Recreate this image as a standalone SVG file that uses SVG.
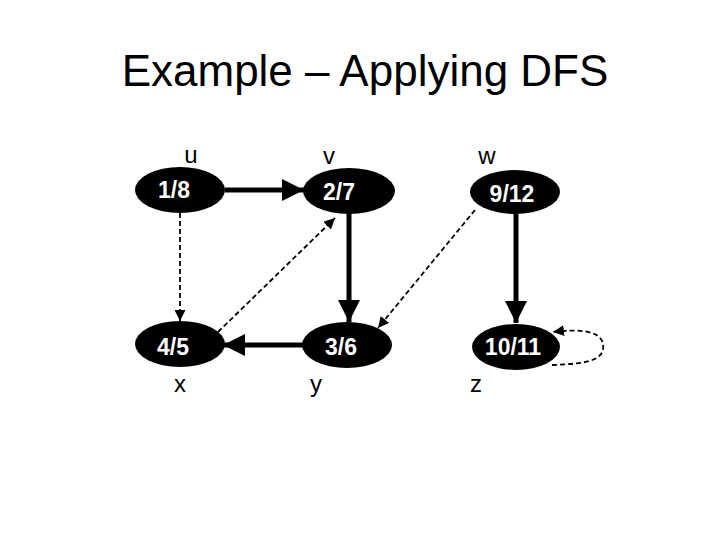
<svg xmlns="http://www.w3.org/2000/svg" width="720" height="540" viewBox="0 0 720 540">
<style>
.node{fill:#000}
.nt{font-family:"Liberation Sans",Arial,sans-serif;font-weight:bold;font-size:23px;fill:#fff;text-anchor:middle}
.lb{font-family:"Liberation Sans",Arial,sans-serif;font-size:24px;fill:#000;text-anchor:middle}
.tree{stroke:#000;stroke-width:5;fill:none}
.back{stroke:#000;stroke-width:1.8;stroke-dasharray:5,3;fill:none}
</style>
<defs>
<marker id="bigA" viewBox="0 0 20 20" refX="20" refY="10" markerWidth="23" markerHeight="22" orient="auto" markerUnits="userSpaceOnUse">
<path d="M0,0 L20,10 L0,20 Z" fill="#000"/>
</marker>
<marker id="sm" viewBox="0 0 10 10" refX="10" refY="5" markerWidth="11" markerHeight="11" orient="auto" markerUnits="userSpaceOnUse">
<path d="M0,0 L10,5 L0,10 Z" fill="#000"/>
</marker>
</defs>
<rect width="720" height="540" fill="#fff"/>
<text x="365" y="86" font-family="Liberation Sans, Arial, sans-serif" font-size="44" text-anchor="middle">Example – Applying DFS</text>

<g id="connectors">
<line class="tree" x1="225" y1="190" x2="304" y2="190" marker-end="url(#bigA)"/>
<line class="tree" x1="349" y1="213" x2="349" y2="322" marker-end="url(#bigA)"/>
<line class="tree" x1="516" y1="214" x2="516" y2="323" marker-end="url(#bigA)"/>
<line class="tree" x1="303" y1="345" x2="223" y2="345" marker-end="url(#bigA)"/>
<line class="back" x1="180" y1="213" x2="180" y2="321" marker-end="url(#sm)"/>
<line class="back" x1="218" y1="332" x2="335" y2="218" marker-end="url(#sm)"/>
<line class="back" x1="475" y1="210" x2="378" y2="328" marker-end="url(#sm)"/>
<path class="back" d="M552,365 C580,364 600,362 603,350 C606,332 585,328 553,332" marker-end="url(#sm)"/>
</g>

<g id="node-u">
<ellipse class="node" cx="180" cy="190" rx="45" ry="23"/>
<text class="nt" x="174" y="198">1/8</text>
<text class="lb" x="191" y="163">u</text>
</g>
<g id="node-v">
<ellipse class="node" cx="349" cy="191" rx="46" ry="23"/>
<text class="nt" x="339" y="200">2/7</text>
<text class="lb" x="329" y="164">v</text>
</g>
<g id="node-w">
<ellipse class="node" cx="515" cy="192" rx="45" ry="22"/>
<text class="nt" x="512" y="202">9/12</text>
<text class="lb" x="487" y="164">w</text>
</g>
<g id="node-x">
<ellipse class="node" cx="180" cy="344" rx="45" ry="23"/>
<text class="nt" x="173" y="355">4/5</text>
<text class="lb" x="180" y="392">x</text>
</g>
<g id="node-y">
<ellipse class="node" cx="347" cy="345" rx="45" ry="23"/>
<text class="nt" x="341" y="355">3/6</text>
<text class="lb" x="316" y="392">y</text>
</g>
<g id="node-z">
<ellipse class="node" cx="516" cy="347" rx="44" ry="23"/>
<text class="nt" x="513" y="355">10/11</text>
<text class="lb" x="476" y="392">z</text>
</g>
</svg>
